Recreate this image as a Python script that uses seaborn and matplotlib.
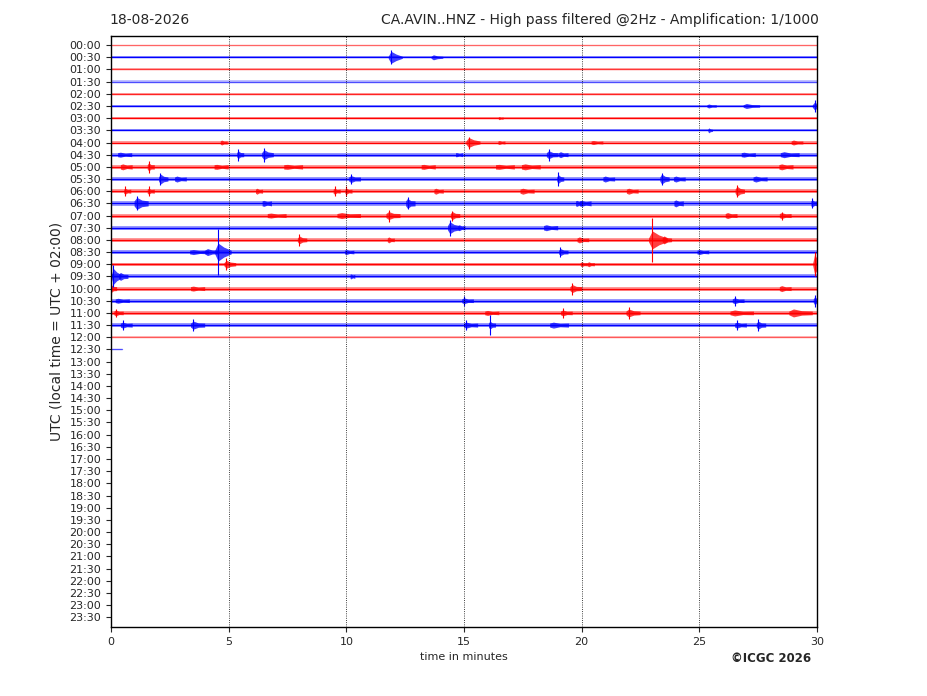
import matplotlib
matplotlib.use("Agg")
import matplotlib.pyplot as plt
import seaborn as sns
import pandas as pd

# helicorder rows (30 min each), colour alternates red / blue
row_labels = [f"{h:02d}:{m:02d}" for h in range(24) for m in (0, 30)]
n_traces = 26
trace_end = [30] * 25 + [0.45]          # last trace is still being recorded
# background noise half-height per trace, in pixels
noise_px = [0.5, 1.0, 1.0, 1.2, 1.0, 1.2, 1.2, 1.0, 1.5, 2.0, 2.2, 2.0, 2.0,
            2.5, 2.0, 2.2, 1.8, 1.8, 1.6, 2.0, 2.0, 1.8, 1.8, 2.0, 1.0, 0.5]
trace_alpha = [0.5, 1, 0.7, 0.6, 0.8, 1, 1, 1, 1, 1, 1, 1, 1,
               1, 1, 1, 1, 1, 1, 1, 1, 1, 1, 1, 0.55, 0.6]

# events: trace, minute, body half-height (px), duration (min), spike (px)
ev_trace = [1, 1, 5, 5, 5, 6, 7,
            8, 8, 8, 8, 8,
            9, 9, 9, 9, 9, 9, 9, 9,
            10, 10, 10, 10, 10, 10, 10, 10,
            11, 11, 11, 11, 11, 11, 11, 11,
            12, 12, 12, 12, 12, 12, 12, 12, 12,
            13, 13, 13, 13, 13, 13, 13,
            14, 14, 14, 14, 14, 14,
            15, 15, 15,
            16, 16, 16, 16, 16,
            17, 17, 17, 17, 17, 17,
            18, 18, 18, 18,
            19, 19, 19,
            20, 20, 20, 20,
            21, 21, 21, 21,
            22, 22, 22, 22, 22, 22,
            23, 23, 23, 23, 23, 23, 23]
ev_minute = [11.9, 13.7, 25.4, 27.0, 29.9, 16.5, 25.4,
             4.7, 15.2, 16.5, 20.5, 29.0,
             0.4, 5.4, 6.5, 14.7, 18.6, 19.1, 26.9, 28.6,
             0.5, 1.6, 4.5, 7.5, 13.3, 16.5, 17.6, 28.5,
             2.1, 2.8, 10.2, 19.0, 21.0, 23.4, 24.0, 27.4,
             0.6, 1.6, 6.2, 9.5, 10.0, 13.8, 17.5, 22.0, 26.6,
             1.1, 6.5, 12.6, 19.8, 20.0, 24.0, 29.8,
             6.8, 9.8, 11.8, 14.5, 26.2, 28.5,
             14.4, 14.8, 18.5,
             8.0, 11.8, 19.9, 23.0, 23.5,
             3.5, 4.1, 4.55, 10.0, 19.1, 25.0,
             4.9, 20.0, 20.3, 29.9,
             0.1, 0.4, 10.2,
             0.0, 3.5, 19.6, 28.5,
             0.3, 15.0, 26.5, 29.9,
             0.2, 16.0, 19.2, 22.0, 26.5, 29.0,
             0.5, 3.5, 15.1, 16.1, 18.8, 26.6, 27.5]
ev_body = [6, 2.5, 2, 2.5, 4, 1.5, 2.5,
           2.5, 5, 2, 2, 2.5,
           2.5, 4, 5, 2, 4, 3, 2.5, 3,
           3, 4, 2.5, 2.5, 2.5, 2.5, 3, 3,
           5, 3, 3.5, 4.5, 3, 5, 3, 3,
           3, 3, 3, 3, 3, 3, 3, 3, 5,
           6, 3, 5, 3, 3, 3.5, 3.5,
           2.5, 3, 4, 4, 3, 3,
           6, 3, 3,
           4, 3, 3, 9, 4,
           2.5, 3.5, 9, 2.5, 3.5, 2.5,
           4, 2.5, 2.5, 10,
           8, 4, 2.5,
           4, 2.5, 4, 3,
           2.5, 3, 3, 4,
           3, 2.5, 3, 4, 3, 4,
           3, 4, 3, 4, 3, 3, 4]
ev_dur = [0.6, 0.5, 0.4, 0.7, 0.5, 0.2, 0.2,
          0.3, 0.6, 0.3, 0.5, 0.5,
          0.6, 0.3, 0.5, 0.3, 0.5, 0.4, 0.6, 0.8,
          0.5, 0.3, 0.6, 0.8, 0.6, 0.8, 0.8, 0.6,
          0.4, 0.5, 0.5, 0.3, 0.5, 0.4, 0.5, 0.6,
          0.3, 0.3, 0.3, 0.3, 0.3, 0.4, 0.6, 0.5, 0.4,
          0.6, 0.4, 0.4, 0.3, 0.5, 0.4, 0.3,
          0.8, 1.0, 0.6, 0.4, 0.5, 0.5,
          0.5, 0.3, 0.6,
          0.4, 0.3, 0.5, 0.8, 0.4,
          0.8, 0.6, 0.7, 0.4, 0.4, 0.5,
          0.5, 0.3, 0.3, 0.4,
          0.4, 0.4, 0.2,
          0.3, 0.6, 0.5, 0.5,
          0.6, 0.5, 0.5, 0.3,
          0.4, 0.6, 0.5, 0.6, 1.0, 1.0,
          0.5, 0.6, 0.6, 0.3, 0.8, 0.5, 0.4]
ev_spike = [7, 0, 0, 0, 6, 0, 0,
            0, 6, 0, 0, 0,
            0, 6, 7, 0, 6, 0, 0, 0,
            0, 6, 0, 0, 0, 0, 0, 0,
            6, 0, 5, 7, 0, 6, 0, 0,
            5, 5, 0, 5, 5, 0, 0, 0, 6,
            7, 0, 6, 0, 0, 0, 5,
            0, 0, 6, 5, 0, 4,
            8, 0, 0,
            6, 0, 0, 22, 0,
            0, 0, 23, 0, 5, 0,
            6, 0, 0, 12,
            11, 0, 0,
            6, 0, 6, 0,
            0, 5, 5, 6,
            4, 0, 5, 6, 0, 0,
            5, 6, 5, 10, 0, 5, 6]

colors = ["#ff0000", "#0000ff"]
px_per_row = 12.17

sns.set_style("ticks")
plt.rcParams["font.family"] = ["DejaVu Sans"]

fig = plt.figure(figsize=(9.27, 6.96), dpi=100)
ax = fig.add_axes([111 / 927, 1 - 627 / 696, 706 / 927, 591 / 696])

# baselines through seaborn
base = pd.DataFrame({
    "trace": [i for i in range(n_traces) for _ in (0, 1)],
    "minute": [v for i in range(n_traces) for v in (0, trace_end[i])],
    "level": [i for i in range(n_traces) for _ in (0, 1)],
    "kind": [("odd" if i % 2 else "even") for i in range(n_traces) for _ in (0, 1)],
})
sns.lineplot(data=base, x="minute", y="level", units="trace", hue="kind",
             estimator=None, palette={"even": colors[0], "odd": colors[1]},
             linewidth=1.0, legend=False, ax=ax)
for ln in ax.lines:
    yd = ln.get_ydata()
    if len(yd):
        ln.set_alpha(trace_alpha[int(round(yd[0]))])

# background noise bands
for i in range(n_traces):
    h = noise_px[i] / px_per_row
    ax.fill_between([0, trace_end[i]], i - h, i + h, color=colors[i % 2],
                    alpha=0.4 * trace_alpha[i], linewidth=0)

# events: sharp onset, decaying coda, optional peak spike
for tr, t, body, dur, spike in zip(ev_trace, ev_minute, ev_body, ev_dur, ev_spike):
    c = colors[tr % 2]
    b = body / px_per_row
    n = noise_px[tr] / px_per_row
    xs = [max(t - dur * 0.2, 0), t, min(t + dur * 0.35, 30), min(t + dur * 0.8, 30)]
    hs = [n, b, 0.55 * b, n]
    ax.fill_between(xs, [tr - v for v in hs], [tr + v for v in hs],
                    color=c, alpha=0.75, linewidth=0)
    if spike > 0:
        s = spike / px_per_row
        ax.vlines(t, tr - s, tr + s, color=c, linewidth=0.8)

ax.set_xlim(0, 30)
ax.set_ylim(47.8, -0.75)
ax.set_xticks([0, 5, 10, 15, 20, 25, 30])
ax.set_yticks(range(48))
ax.set_yticklabels(row_labels)
ax.tick_params(axis="both", labelsize=8, length=3.5, width=0.8)
for v in [5, 10, 15, 20, 25]:
    ax.axvline(v, color="black", linestyle=":", linewidth=0.6)
for sp in ax.spines.values():
    sp.set_visible(True)
    sp.set_color("black")
    sp.set_linewidth(1.0)

ax.set_xlabel("time in minutes", fontsize=8)
ax.set_ylabel("UTC (local time = UTC + 02:00)", fontsize=10, labelpad=4)
fig.text(109 / 927, 1 - 20 / 696, "18-08-2026", fontsize=10, va="center", ha="left")
fig.text(819 / 927, 1 - 20 / 696,
         "CA.AVIN..HNZ - High pass filtered @2Hz - Amplification: 1/1000",
         fontsize=10, va="center", ha="right")
fig.text(811 / 927, 1 - 658 / 696, "©ICGC 2026", fontsize=8.5,
         fontweight="bold", va="center", ha="right")

fig.savefig("out.png", dpi=100)
